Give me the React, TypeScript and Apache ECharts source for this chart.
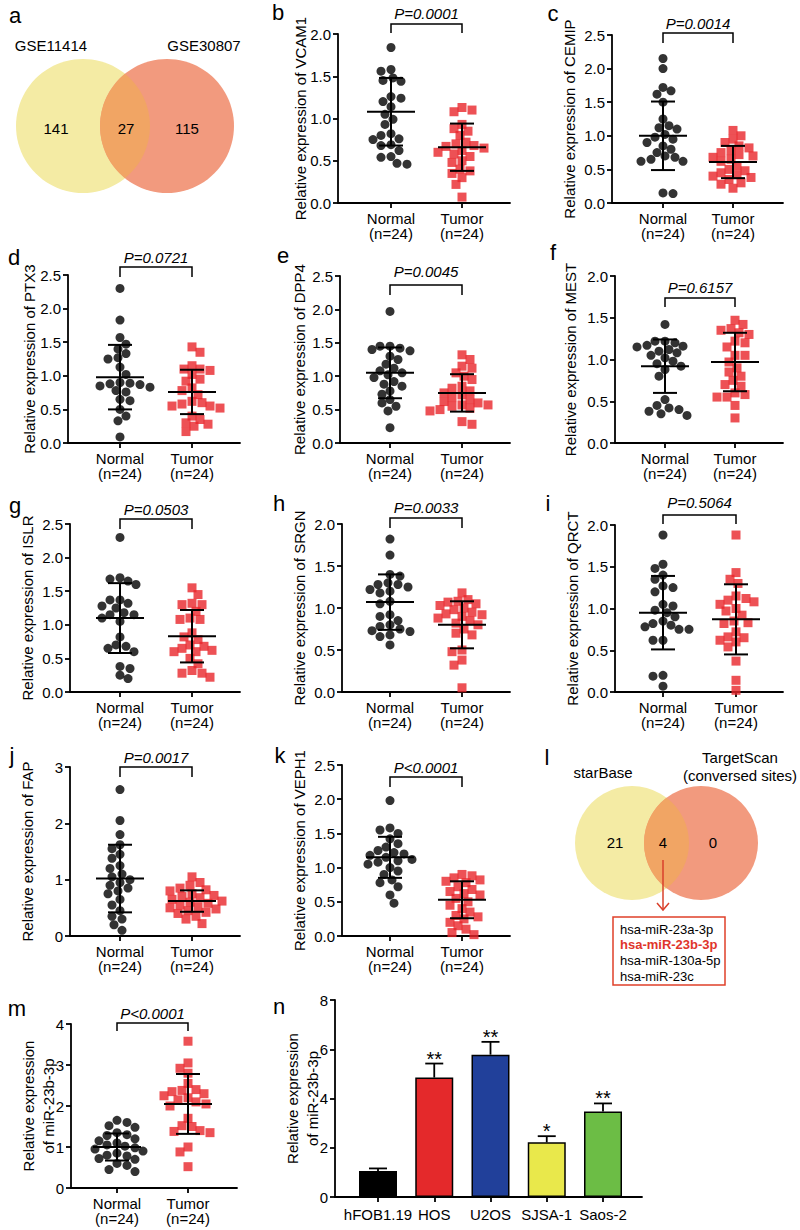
import React, { useEffect, useRef } from 'react';
import * as echarts from 'echarts';

const FONT = "'Liberation Sans', Arial, Helvetica, sans-serif";

// ---------- data ----------
const groupLabels = ['Normal\n(n=24)', 'Tumor\n(n=24)'];
const panelLetters = ['b', 'c', 'd', 'e', 'f', 'g', 'h', 'i', 'j', 'k', 'm'];
const yTitles = [
  'Relative expression of VCAM1', 'Relative expression of CEMIP', 'Relative expression of PTX3',
  'Relative expression of DPP4', 'Relative expression of MEST', 'Relative expression of ISLR',
  'Relative expression of SRGN', 'Relative expression of QRCT', 'Relative expression of FAP',
  'Relative expression of VEPH1', 'Relative expression\nof miR-23b-3p',
];
const pLabels = ['P=0.0001', 'P=0.0014', 'P=0.0721', 'P=0.0045', 'P=0.6157', 'P=0.0503', 'P=0.0033', 'P=0.5064', 'P=0.0017', 'P<0.0001', 'P<0.0001'];
const yMaxes = [2.0, 2.5, 2.5, 2.5, 2.0, 2.5, 2.0, 2.0, 3, 2.5, 4];
const ySteps = [0.5, 0.5, 0.5, 0.5, 0.5, 0.5, 0.5, 0.5, 1, 0.5, 1];

const vcam1Normal = [1.84, 1.58, 1.56, 1.48, 1.44, 1.45, 1.26, 1.24, 1.20, 1.14, 1.05, 0.99, 0.93, 0.82, 0.80, 0.76, 0.75, 0.68, 0.69, 0.62, 0.55, 0.54, 0.47, 0.46];
const vcam1Tumor = [1.13, 1.10, 1.08, 0.93, 0.88, 0.85, 0.80, 0.72, 0.70, 0.68, 0.67, 0.65, 0.62, 0.60, 0.58, 0.55, 0.50, 0.48, 0.40, 0.38, 0.35, 0.30, 0.22, 0.07];
const cemipNormal = [2.15, 2.00, 1.72, 1.67, 1.62, 1.50, 1.25, 1.15, 1.12, 1.10, 1.02, 0.98, 0.95, 0.90, 0.85, 0.80, 0.75, 0.70, 0.68, 0.65, 0.62, 0.62, 0.15, 0.14];
const cemipTumor = [1.08, 1.00, 0.95, 0.90, 0.85, 0.82, 0.78, 0.75, 0.72, 0.70, 0.68, 0.65, 0.62, 0.55, 0.50, 0.48, 0.45, 0.42, 0.40, 0.38, 0.35, 0.30, 0.28, 0.22];
const ptx3Normal = [2.30, 1.83, 1.57, 1.47, 1.40, 1.33, 1.27, 1.25, 1.13, 1.02, 0.90, 0.89, 0.88, 0.87, 0.85, 0.83, 0.78, 0.76, 0.65, 0.63, 0.50, 0.40, 0.33, 0.09];
const ptx3Tumor = [1.43, 1.35, 1.15, 1.10, 1.10, 1.08, 1.02, 0.95, 0.92, 0.82, 0.78, 0.72, 0.62, 0.60, 0.58, 0.55, 0.55, 0.52, 0.40, 0.35, 0.30, 0.28, 0.25, 0.17];
const dpp4Normal = [1.97, 1.45, 1.45, 1.42, 1.40, 1.38, 1.30, 1.25, 1.18, 1.12, 1.08, 1.05, 1.02, 0.98, 0.92, 0.88, 0.85, 0.78, 0.73, 0.65, 0.60, 0.55, 0.48, 0.23];
const dpp4Tumor = [1.32, 1.25, 1.15, 1.12, 1.05, 1.00, 0.95, 0.85, 0.82, 0.78, 0.75, 0.72, 0.68, 0.65, 0.62, 0.60, 0.57, 0.57, 0.55, 0.52, 0.50, 0.48, 0.32, 0.28];
const mestNormal = [1.42, 1.22, 1.22, 1.20, 1.17, 1.16, 1.15, 1.12, 1.10, 1.08, 1.05, 1.02, 0.98, 0.95, 0.92, 0.88, 0.80, 0.52, 0.45, 0.42, 0.40, 0.38, 0.35, 0.33];
const mestTumor = [1.47, 1.42, 1.37, 1.35, 1.32, 1.30, 1.22, 1.20, 1.15, 1.05, 1.05, 0.97, 0.90, 0.85, 0.80, 0.75, 0.70, 0.68, 0.60, 0.58, 0.55, 0.55, 0.45, 0.30];
const islrNormal = [2.30, 1.70, 1.68, 1.65, 1.60, 1.37, 1.37, 1.32, 1.28, 1.25, 1.18, 1.15, 1.15, 1.10, 1.05, 0.82, 0.70, 0.68, 0.65, 0.60, 0.38, 0.35, 0.25, 0.20];
const islrTumor = [1.55, 1.45, 1.32, 1.30, 1.30, 1.20, 1.10, 1.08, 1.08, 0.88, 0.82, 0.78, 0.70, 0.68, 0.65, 0.62, 0.60, 0.60, 0.50, 0.42, 0.32, 0.28, 0.28, 0.22];
const srgnNormal = [1.82, 1.63, 1.40, 1.38, 1.30, 1.28, 1.28, 1.25, 1.22, 1.20, 1.18, 1.08, 1.05, 0.92, 0.90, 0.85, 0.80, 0.78, 0.75, 0.73, 0.72, 0.68, 0.66, 0.56];
const srgnTumor = [1.18, 1.10, 1.08, 1.07, 1.05, 1.03, 1.00, 0.98, 0.95, 0.93, 0.92, 0.90, 0.88, 0.85, 0.82, 0.80, 0.75, 0.70, 0.68, 0.50, 0.48, 0.38, 0.32, 0.05];
const qrctNormal = [1.88, 1.53, 1.48, 1.40, 1.35, 1.27, 1.25, 1.20, 1.05, 1.03, 0.98, 0.95, 0.90, 0.85, 0.82, 0.80, 0.78, 0.75, 0.75, 0.62, 0.62, 0.20, 0.19, 0.07];
const qrctTumor = [1.88, 1.43, 1.35, 1.30, 1.15, 1.12, 1.10, 1.08, 1.05, 1.00, 0.97, 0.92, 0.85, 0.83, 0.82, 0.72, 0.66, 0.65, 0.62, 0.60, 0.54, 0.37, 0.14, 0.02];
const fapNormal = [2.60, 2.05, 1.80, 1.62, 1.55, 1.45, 1.38, 1.25, 1.20, 1.10, 1.05, 1.00, 0.95, 0.90, 0.85, 0.80, 0.75, 0.65, 0.55, 0.45, 0.35, 0.30, 0.20, 0.10];
const fapTumor = [1.05, 0.95, 0.90, 0.85, 0.82, 0.80, 0.75, 0.72, 0.70, 0.68, 0.65, 0.62, 0.60, 0.58, 0.55, 0.52, 0.50, 0.48, 0.45, 0.42, 0.40, 0.35, 0.30, 0.22];
const veph1Normal = [1.98, 1.58, 1.55, 1.50, 1.42, 1.35, 1.30, 1.25, 1.22, 1.20, 1.18, 1.15, 1.12, 1.10, 1.08, 1.05, 1.00, 0.95, 0.90, 0.82, 0.78, 0.72, 0.60, 0.48];
const veph1Tumor = [0.90, 0.88, 0.85, 0.82, 0.80, 0.78, 0.72, 0.68, 0.65, 0.62, 0.60, 0.55, 0.50, 0.45, 0.40, 0.35, 0.30, 0.28, 0.25, 0.20, 0.15, 0.10, 0.05, 0.02];
const mirNormal = [1.65, 1.60, 1.52, 1.48, 1.35, 1.30, 1.28, 1.20, 1.15, 1.10, 1.05, 1.02, 0.98, 0.95, 0.90, 0.85, 0.80, 0.78, 0.72, 0.70, 0.60, 0.55, 0.45, 0.40];
const mirTumor = [3.58, 3.05, 2.92, 2.80, 2.55, 2.40, 2.38, 2.35, 2.30, 2.25, 2.20, 2.15, 2.10, 2.05, 2.00, 1.70, 1.52, 1.50, 1.40, 1.38, 1.35, 1.00, 0.88, 0.52];

const normalSets = [vcam1Normal, cemipNormal, ptx3Normal, dpp4Normal, mestNormal, islrNormal, srgnNormal, qrctNormal, fapNormal, veph1Normal, mirNormal];
const tumorSets = [vcam1Tumor, cemipTumor, ptx3Tumor, dpp4Tumor, mestTumor, islrTumor, srgnTumor, qrctTumor, fapTumor, veph1Tumor, mirTumor];
const normalMeans = [1.08, 1.00, 0.98, 1.05, 0.92, 1.10, 1.07, 0.95, 1.02, 1.15, 1.00];
const normalSds = [0.40, 0.51, 0.48, 0.38, 0.32, 0.52, 0.33, 0.44, 0.60, 0.30, 0.33];
const tumorMeans = [0.66, 0.61, 0.76, 0.75, 0.97, 0.83, 0.80, 0.87, 0.62, 0.53, 2.05];
const tumorSds = [0.28, 0.24, 0.33, 0.28, 0.35, 0.39, 0.28, 0.42, 0.19, 0.27, 0.73];

const cellLines = ['hFOB1.19', 'HOS', 'U2OS', 'SJSA-1', 'Saos-2'];
const cellMeans = [1.06, 4.85, 5.78, 2.22, 3.47];
const cellErrors = [0.10, 0.57, 0.52, 0.25, 0.33];
const cellStars = ['', '**', '**', '*', '**'];
const cellColors = ['#000000', '#e4292b', '#21409a', '#e9e84b', '#6cbd45'];
const cellTicks = [0, 2, 4, 6, 8];

const vennA = { left: 'GSE11414', right: 'GSE30807', counts: ['141', '27', '115'] };
const vennL = { left: 'starBase', right: 'TargetScan\n(conversed sites)', counts: ['21', '4', '0'] };
const mirList = ['hsa-miR-23a-3p', 'hsa-miR-23b-3p', 'hsa-miR-130a-5p', 'hsa-miR-23c'];

// ---------- layout (pixels) ----------
const layouts = [
  { ax: 338, top: 34, bottom: 203, right: 510, cl: 391, cr: 462, tx: 303, bt: 24, bd: 33, py: 13, lx: 278, ly: 12 },
  { ax: 612, top: 35, bottom: 203, right: 783, cl: 663, cr: 733, tx: 572, bt: 33, bd: 43, py: 23, lx: 553, ly: 13 },
  { ax: 68, top: 275, bottom: 443, right: 240, cl: 120, cr: 192, tx: 32, bt: 267, bd: 277, py: 257, lx: 14, ly: 257 },
  { ax: 340, top: 276, bottom: 443, right: 510, cl: 390, cr: 462, tx: 302, bt: 285, bd: 295, py: 271, lx: 283, ly: 255 },
  { ax: 615, top: 276, bottom: 443, right: 783, cl: 665, cr: 735, tx: 573, bt: 298, bd: 307, py: 287, lx: 553, ly: 252 },
  { ax: 70, top: 524, bottom: 692, right: 240, cl: 120, cr: 192, tx: 30, bt: 519, bd: 529, py: 509, lx: 15, ly: 505 },
  { ax: 342, top: 524, bottom: 692, right: 510, cl: 390, cr: 462, tx: 302, bt: 518, bd: 528, py: 507, lx: 279, ly: 503 },
  { ax: 615, top: 525, bottom: 692, right: 783, cl: 663, cr: 736, tx: 575, bt: 515, bd: 524, py: 502, lx: 548, ly: 503 },
  { ax: 70, top: 767, bottom: 936, right: 240, cl: 120, cr: 192, tx: 30, bt: 767, bd: 777, py: 757, lx: 12, ly: 755 },
  { ax: 342, top: 765, bottom: 936, right: 510, cl: 390, cr: 462, tx: 302, bt: 777, bd: 787, py: 767, lx: 280, ly: 755 },
  { ax: 71, top: 1024, bottom: 1188, right: 237, cl: 117, cr: 188, tx: 38, bt: 1023, bd: 1031, py: 1013, lx: 17, ly: 1008 },
];
const barLayout = { ax: 335, top: 1000, bottom: 1197, right: 642, c0: 378, gap: 56.25, tx: 302, lx: 279, ly: 1006 };
const vennALayout = { x1: 83, x2: 167, cy: 126, r: 67 };
const vennLLayout = { x1: 632, x2: 701, cy: 843, r: 57 };

function lensPath(v: { x1: number; x2: number; cy: number; r: number }) {
  const a = (v.x2 - v.x1) / 2;
  const h = Math.sqrt(v.r * v.r - a * a);
  const mx = v.x1 + a;
  return `M${mx} ${v.cy - h} A${v.r} ${v.r} 0 0 1 ${mx} ${v.cy + h} A${v.r} ${v.r} 0 0 1 ${mx} ${v.cy - h} Z`;
}
echarts.graphic.registerShape('lensA', echarts.graphic.extendPath(lensPath(vennALayout), {}));
echarts.graphic.registerShape('lensL', echarts.graphic.extendPath(lensPath(vennLLayout), {}));

function swarm(values: number[], center: number, unitPx: number, pxPerY: number) {
  const order = values.map((_, i) => i).sort((a, b) => values[b] - values[a]);
  const placed: { x: number; y: number }[] = [];
  const out: number[][] = [];
  const D = 8.6;
  const STEP = 2;
  order.forEach((i, n) => {
    const y = values[i] * pxPerY;
    let off = 0;
    for (let k = 0; k < 80; k++) {
      const mag = Math.ceil(k / 2) * STEP;
      const sign = ((k % 2 === 1) !== (n % 2 === 0)) ? 1 : -1;
      const cand = k === 0 ? 0 : sign * mag;
      if (placed.every((p) => (p.x - cand) ** 2 + (p.y - y) ** 2 >= D * D)) { off = cand; break; }
    }
    placed.push({ x: off, y });
    out[i] = [center + off / unitPx, values[i]];
  });
  return out;
}

function txt(text: string, x: number, y: number, size: number, extra: any = {}) {
  const align = extra.align || 'center';
  return {
    type: 'text', x, y, z: 10,
    style: {
      text, fill: extra.fill || '#000', fontSize: size, fontFamily: FONT,
      fontWeight: extra.fontWeight || 'normal', fontStyle: extra.fontStyle || 'normal',
      align, textAlign: align, verticalAlign: 'middle', textVerticalAlign: 'middle',
      lineHeight: extra.lineHeight || size * 1.2,
    },
  };
}

export default function App() {
  const ref = useRef<HTMLDivElement>(null);
  useEffect(() => {
    if (!ref.current) return;
    const chart = echarts.init(ref.current, null, { renderer: 'svg' });
    const grid: any[] = [];
    const xAxis: any[] = [];
    const yAxis: any[] = [];
    const series: any[] = [];
    const graphic: any[] = [];
    const axisLineStyle = { color: '#000', width: 1.8 };

    layouts.forEach((L, i) => {
      const unitPx = L.cr - L.cl;
      const height = L.bottom - L.top;
      const pxPerY = height / yMaxes[i];
      grid.push({ left: L.ax, top: L.top, width: L.right - L.ax, height });
      xAxis.push({
        type: 'value', gridIndex: i,
        min: 1 - (L.cl - L.ax) / unitPx, max: 2 + (L.right - L.cr) / unitPx,
        axisLine: { show: true, onZero: false, lineStyle: axisLineStyle },
        axisTick: { show: true, customValues: [1, 2], length: 5, lineStyle: axisLineStyle },
        axisLabel: {
          customValues: [1, 2], formatter: (v: number) => groupLabels[Math.round(v) - 1] || '',
          fontSize: 15, color: '#000', margin: 8, lineHeight: 15, fontFamily: FONT,
        },
        splitLine: { show: false },
      });
      const two = yTitles[i].includes('\n');
      yAxis.push({
        type: 'value', gridIndex: i, min: 0, max: yMaxes[i], interval: ySteps[i],
        axisLine: { show: true, onZero: false, lineStyle: axisLineStyle },
        axisTick: { show: true, length: 5, lineStyle: axisLineStyle },
        axisLabel: {
          fontSize: 15, color: '#000', margin: 7, fontFamily: FONT,
          formatter: (v: number) => (ySteps[i] < 1 ? v.toFixed(1) : String(v)),
        },
        splitLine: { show: false },
        name: yTitles[i], nameLocation: 'middle', nameMoveOverlap: false,
        nameGap: two ? L.ax - L.tx - 20 : L.ax - L.tx - 7.5,
        nameTextStyle: { fontSize: 15, color: '#000', fontFamily: FONT, lineHeight: 20 },
      });
      series.push({
        type: 'scatter', xAxisIndex: i, yAxisIndex: i, symbol: 'circle', symbolSize: 9, z: 2,
        itemStyle: { color: '#000' }, data: swarm(normalSets[i], 1, unitPx, pxPerY),
      });
      series.push({
        type: 'scatter', xAxisIndex: i, yAxisIndex: i, symbol: 'rect', symbolSize: 9, z: 2,
        itemStyle: { color: '#e8262a' }, data: swarm(tumorSets[i], 2, unitPx, pxPerY),
      });
      series.push({
        type: 'custom', xAxisIndex: i, yAxisIndex: i, z: 5,
        encode: { x: 0, y: 1 },
        data: [[1, normalMeans[i], normalSds[i]], [2, tumorMeans[i], tumorSds[i]]],
        renderItem: (params: any, api: any) => {
          const x = api.value(0); const m = api.value(1); const s = api.value(2);
          const c = api.coord([x, m]);
          const hi = api.coord([x, m + s]);
          const lo = api.coord([x, Math.max(0, m - s)]);
          const style = { stroke: '#000', lineWidth: 2 };
          return {
            type: 'group', children: [
              { type: 'line', shape: { x1: c[0] - 24, y1: c[1], x2: c[0] + 24, y2: c[1] }, style },
              { type: 'line', shape: { x1: hi[0], y1: hi[1], x2: lo[0], y2: lo[1] }, style },
              { type: 'line', shape: { x1: hi[0] - 12, y1: hi[1], x2: hi[0] + 12, y2: hi[1] }, style },
              { type: 'line', shape: { x1: lo[0] - 12, y1: lo[1], x2: lo[0] + 12, y2: lo[1] }, style },
            ],
          };
        },
      });
      graphic.push({
        type: 'polyline', z: 10,
        shape: { points: [[L.cl, L.bd], [L.cl, L.bt], [L.cr, L.bt], [L.cr, L.bd]] },
        style: { stroke: '#000', lineWidth: 1.5, fill: null },
      });
      graphic.push(txt(pLabels[i], (L.cl + L.cr) / 2, L.py, 15, { fontStyle: 'italic' }));
      graphic.push(txt(panelLetters[i], L.lx, L.ly, 22));
    });

    // bar panel n
    const bi = layouts.length;
    const B = barLayout;
    grid.push({ left: B.ax, top: B.top, width: B.right - B.ax, height: B.bottom - B.top });
    xAxis.push({
      type: 'value', gridIndex: bi,
      min: 1 - (B.c0 - B.ax) / B.gap, max: cellLines.length + (B.right - (B.c0 + B.gap * (cellLines.length - 1))) / B.gap,
      axisLine: { show: true, onZero: false, lineStyle: axisLineStyle },
      axisTick: { show: true, customValues: cellLines.map((_, k) => k + 1), length: 5, lineStyle: axisLineStyle },
      axisLabel: {
        customValues: cellLines.map((_, k) => k + 1), formatter: (v: number) => cellLines[Math.round(v) - 1] || '',
        fontSize: 15, color: '#000', margin: 10, fontFamily: FONT,
      },
      splitLine: { show: false },
    });
    yAxis.push({
      type: 'value', gridIndex: bi, min: cellTicks[0], max: cellTicks[cellTicks.length - 1], interval: 2,
      axisLine: { show: true, onZero: false, lineStyle: axisLineStyle },
      axisTick: { show: true, length: 5, lineStyle: axisLineStyle },
      axisLabel: { fontSize: 15, color: '#000', margin: 7, fontFamily: FONT },
      splitLine: { show: false },
      name: 'Relative expression\nof miR-23b-3p', nameLocation: 'middle', nameMoveOverlap: false, nameGap: B.ax - B.tx - 20,
      nameTextStyle: { fontSize: 15, color: '#000', fontFamily: FONT, lineHeight: 20 },
    });
    series.push({
      type: 'bar', xAxisIndex: bi, yAxisIndex: bi, barWidth: 38, z: 2,
      data: cellMeans.map((v, k) => ({
        value: [k + 1, v],
        itemStyle: { color: cellColors[k], borderColor: '#000', borderWidth: 1.5 },
      })),
    });
    series.push({
      type: 'custom', xAxisIndex: bi, yAxisIndex: bi, z: 5, encode: { x: 0, y: 1 },
      data: cellMeans.map((v, k) => [k + 1, v, cellErrors[k]]),
      renderItem: (params: any, api: any) => {
        const x = api.value(0); const m = api.value(1); const e = api.value(2);
        const c = api.coord([x, m]);
        const hi = api.coord([x, m + e]);
        const style = { stroke: '#000', lineWidth: 1.8 };
        const star = cellStars[params.dataIndex];
        return {
          type: 'group', children: [
            { type: 'line', shape: { x1: c[0], y1: c[1], x2: hi[0], y2: hi[1] }, style },
            { type: 'line', shape: { x1: hi[0] - 9, y1: hi[1], x2: hi[0] + 9, y2: hi[1] }, style },
            {
              type: 'text', x: hi[0], y: hi[1] - 5,
              style: {
                text: star, fill: '#000', fontSize: 20, fontFamily: FONT,
                align: 'center', textAlign: 'center', verticalAlign: 'middle', textVerticalAlign: 'middle',
              },
            },
          ],
        };
      },
    });
    graphic.push(txt('n', B.lx, B.ly, 22));

    const yellow = '#f4eba4';
    const salmon = '#f29a7e';
    const orange = '#f1a564';
    // Venn a
    const VA = vennALayout;
    graphic.push(
      { type: 'circle', z: 1, shape: { cx: VA.x1, cy: VA.cy, r: VA.r }, style: { fill: yellow } },
      { type: 'circle', z: 2, shape: { cx: VA.x2, cy: VA.cy, r: VA.r }, style: { fill: salmon } },
      { type: 'lensA', z: 3, x: 0, y: 0, scaleX: 1, scaleY: 1, style: { fill: orange } },
      txt('a', 15, 15, 22),
      txt(vennA.left, 51, 45, 15),
      txt(vennA.right, 204, 45, 15),
      txt(vennA.counts[0], 56, 128, 15),
      txt(vennA.counts[1], 126, 128, 15),
      txt(vennA.counts[2], 187, 128, 15),
    );
    // Venn l
    const VL = vennLLayout;
    graphic.push(
      { type: 'circle', z: 1, shape: { cx: VL.x1, cy: VL.cy, r: VL.r }, style: { fill: yellow } },
      { type: 'circle', z: 2, shape: { cx: VL.x2, cy: VL.cy, r: VL.r }, style: { fill: salmon } },
      { type: 'lensL', z: 3, x: 0, y: 0, scaleX: 1, scaleY: 1, style: { fill: orange } },
      txt('l', 547, 757, 22),
      txt(vennL.left, 603, 772, 15),
      txt(vennL.right, 740, 766, 15, { lineHeight: 18 }),
      txt(vennL.counts[0], 615, 842, 15),
      txt(vennL.counts[1], 663, 842, 15),
      txt(vennL.counts[2], 713, 842, 15),
      { type: 'line', z: 10, shape: { x1: 663, y1: 860, x2: 663, y2: 910 }, style: { stroke: '#d9402b', lineWidth: 1.5 } },
      { type: 'polyline', z: 10, shape: { points: [[657, 903], [663, 910], [669, 903]] }, style: { stroke: '#d9402b', lineWidth: 1.5, fill: null } },
      { type: 'rect', z: 9, shape: { x: 613, y: 917, width: 112, height: 68 }, style: { fill: '#fff', stroke: '#e0402a', lineWidth: 1.5 } },
    );
    mirList.forEach((m, k) => {
      graphic.push(txt(m, 620, 929 + k * 15.7, 13, k === 1 ? { align: 'left', fill: '#e0352b', fontWeight: 'bold' } : { align: 'left' }));
    });

    chart.setOption({
      animation: false,
      textStyle: { fontFamily: FONT },
      grid, xAxis, yAxis, series, graphic,
    });
    return () => chart.dispose();
  }, []);
  return <div ref={ref} style={{ position: 'absolute', left: 0, top: 0, width: 800, height: 1230, background: '#fff' }} />;
}
